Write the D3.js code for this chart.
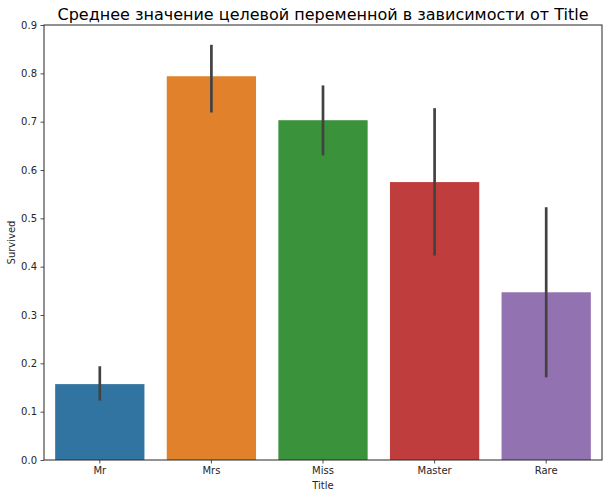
<!DOCTYPE html>
<html><head><meta charset="utf-8">
<script src="https://cdn.jsdelivr.net/npm/d3@7"></script>
<style>body{margin:0;background:#fff}svg{display:block}</style>
</head><body>
<svg id="c" width="609" height="498"></svg>
<script>
const categories = ["Mr","Mrs","Miss","Master","Rare"];
const means = [0.157, 0.794, 0.703, 0.575, 0.347];
const ciLow = [0.123, 0.719, 0.630, 0.423, 0.171];
const ciHigh = [0.194, 0.859, 0.775, 0.728, 0.523];
const colors = ["#3274a1","#e1812c","#3a923a","#c03d3e","#9372b2"];
const yTicks = [0,0.1,0.2,0.3,0.4,0.5,0.6,0.7,0.8,0.9];

const svg = d3.select("#c");
const L=44, R=602, T=25, B=460;
const font = "DejaVu Sans, sans-serif";
const x = d3.scaleBand().domain(categories).range([L,R]).paddingInner(0.2).paddingOuter(0.1);
const y = d3.scaleLinear().domain([0,0.9]).range([B,T]);

const g = svg.append("g");
g.selectAll("rect.bar").data(categories).join("rect")
  .attr("x", d=>x(d)).attr("width", x.bandwidth())
  .attr("y", (d,i)=>y(means[i])).attr("height", (d,i)=>B-y(means[i]))
  .attr("fill", (d,i)=>colors[i]);
g.selectAll("line.err").data(categories).join("line")
  .attr("x1", d=>x(d)+x.bandwidth()/2).attr("x2", d=>x(d)+x.bandwidth()/2)
  .attr("y1", (d,i)=>y(ciLow[i])).attr("y2", (d,i)=>y(ciHigh[i]))
  .attr("stroke","#424242").attr("stroke-width",2.7);

const ya = svg.append("g").attr("transform",`translate(${L},0)`)
  .call(d3.axisLeft(y).tickValues(yTicks).tickFormat(d3.format(".1f")).tickSize(3.5).tickPadding(3.5));
const xa = svg.append("g").attr("transform",`translate(0,${B})`)
  .call(d3.axisBottom(x).tickSize(3.5).tickPadding(3.5));
[ya,xa].forEach(a=>{
  a.selectAll("text").attr("font-family",font).attr("font-size",10).attr("fill","#262626");
  a.selectAll("line").attr("stroke","#262626").attr("stroke-width",0.8);
  a.select(".domain").remove();
});
// spines
svg.append("rect").attr("x",L).attr("y",T).attr("width",R-L).attr("height",B-T)
  .attr("fill","none").attr("stroke","#262626").attr("stroke-width",1);

svg.append("text").attr("x",(L+R)/2).attr("y",20).attr("text-anchor","middle")
  .attr("font-family",font).attr("font-size",16).attr("fill","#000")
  .text("Среднее значение целевой переменной в зависимости от Title");
svg.append("text").attr("x",(L+R)/2).attr("y",489).attr("text-anchor","middle")
  .attr("font-family",font).attr("font-size",10).attr("fill","#262626").text("Title");
svg.append("text").attr("transform",`translate(15,${(T+B)/2}) rotate(-90)`).attr("text-anchor","middle")
  .attr("font-family",font).attr("font-size",10).attr("fill","#262626").text("Survived");
</script>
</body></html>
